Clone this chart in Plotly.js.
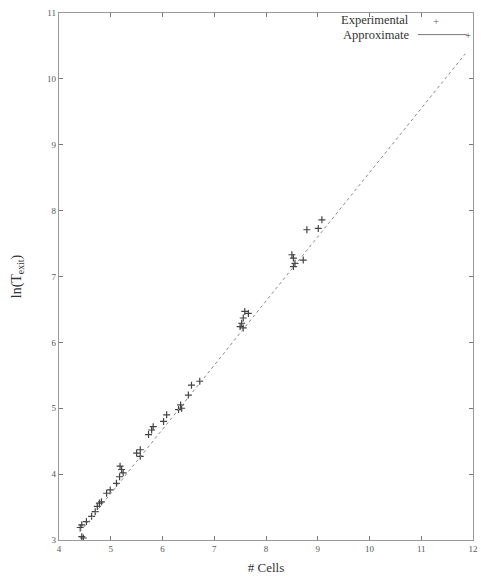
<!DOCTYPE html>
<html>
<head>
<meta charset="utf-8">
<script src="https://cdn.plot.ly/plotly-3.0.1.min.js"></script>
<style>html,body{margin:0;padding:0;background:#fff;}#chart{width:481px;height:581px;}</style>
</head>
<body>
<div id="chart"></div>
<script>
const expX = [4.44,4.47,4.41,4.44,4.53,4.63,4.70,4.74,4.78,4.82,4.92,4.99,5.11,5.17,5.21,5.18,5.24,5.50,
              5.57,5.57,5.73,5.79,5.82,6.02,6.08,6.31,6.35,6.37,6.50,6.56,6.72,
              7.59,7.66,7.53,7.50,7.56,7.56,
              8.50,8.53,8.56,8.53,8.72,8.79,9.01,9.08];
const expY = [3.05,3.03,3.19,3.23,3.28,3.36,3.43,3.51,3.56,3.58,3.71,3.76,3.86,3.96,4.07,4.12,4.02,4.32,
              4.27,4.37,4.60,4.67,4.72,4.80,4.90,4.98,5.05,5.00,5.20,5.35,5.41,
              6.47,6.44,6.29,6.24,6.22,6.37,
              7.33,7.28,7.20,7.15,7.25,7.71,7.73,7.86];
const approxX = [4.40, 11.85];
const approxY = [3.12, 10.38];
const xTicks = [4,5,6,7,8,9,10,11,12];
const yTicks = [3,4,5,6,7,8,9,10,11];
const seriesNames = ['Experimental', 'Approximate'];

const serif = '"Liberation Serif", "DejaVu Serif", serif';
const traces = [
  {x: expX, y: expY, mode: 'markers', type: 'scatter', name: seriesNames[0],
   marker: {symbol: 'cross-thin', size: 5, color: '#444', line: {width: 1.2, color: '#444'}}},
  {x: approxX, y: approxY, mode: 'lines', type: 'scatter', name: seriesNames[1],
   line: {color: '#888', width: 1, dash: 'dot'}}
];
const axisCommon = {
  showgrid: false, zeroline: false, showline: true, linecolor: '#999', linewidth: 1.2,
  mirror: 'ticks', ticks: 'inside', ticklen: 4, tickcolor: '#777',
  tickfont: {family: serif, size: 9, color: '#555'}
};
const keyFont = {family: serif, size: 12.5, color: '#333'};
const layout = {
  width: 481, height: 581,
  margin: {l: 59, r: 8, t: 13, b: 41},
  paper_bgcolor: '#fff', plot_bgcolor: '#fff',
  showlegend: false,
  xaxis: Object.assign({}, axisCommon, {range: [4, 12], tickvals: xTicks,
    title: {text: '# Cells', font: {family: serif, size: 13, color: '#333'}, standoff: 9}}),
  yaxis: Object.assign({}, axisCommon, {range: [3, 11], tickvals: yTicks,
    title: {text: 'ln(T<sub>exit</sub>)', font: {family: serif, size: 14, color: '#333'}, standoff: 22}}),
  annotations: [
    {xref: 'paper', yref: 'paper', x: 0.848, y: 0.987, xanchor: 'right', yanchor: 'middle', borderpad: 0,
     text: seriesNames[0], showarrow: false, font: keyFont},
    {xref: 'paper', yref: 'paper', x: 0.848, y: 0.958, xanchor: 'right', yanchor: 'middle', borderpad: 0,
     text: seriesNames[1], showarrow: false, font: keyFont},
    {xref: 'paper', yref: 'paper', x: 0.911, y: 0.985, xanchor: 'center', yanchor: 'middle', borderpad: 0,
     text: '+', showarrow: false, font: {family: serif, size: 11, color: '#666'}},
    {xref: 'paper', yref: 'paper', x: 0.988, y: 0.959, xanchor: 'center', yanchor: 'middle', borderpad: 0,
     text: '+', showarrow: false, font: {family: serif, size: 11, color: '#444'}}
  ],
  shapes: [
    {type: 'line', xref: 'paper', yref: 'paper', x0: 0.867, x1: 0.985, y0: 0.959, y1: 0.959,
     line: {color: '#777', width: 1}}
  ]
};
Plotly.newPlot('chart', traces, layout, {staticPlot: true, displayModeBar: false});
</script>
</body>
</html>
